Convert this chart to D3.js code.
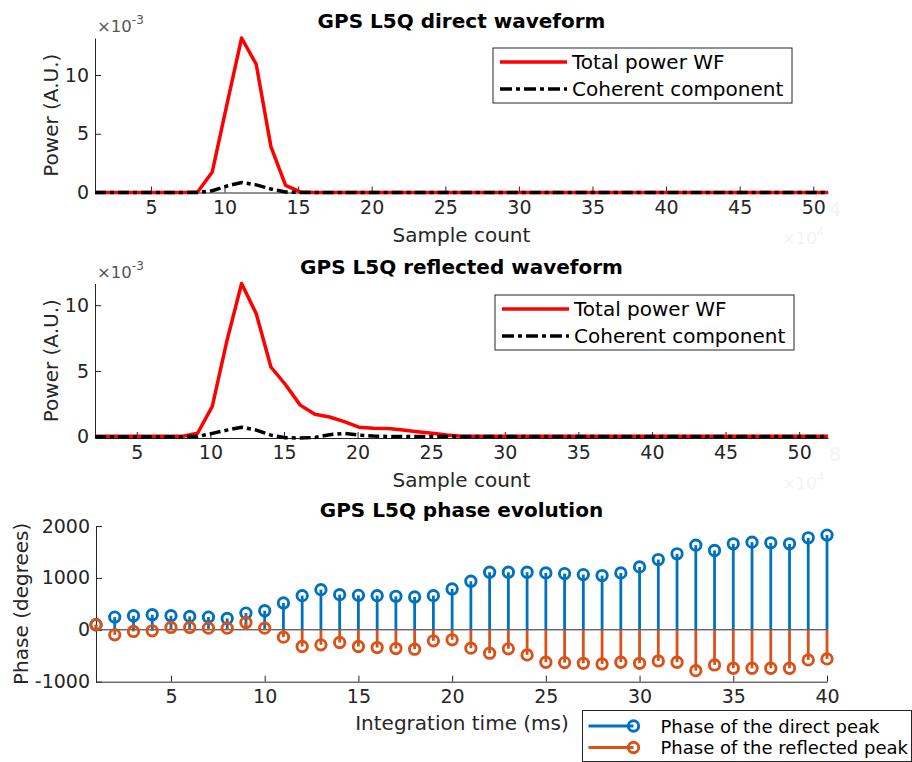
<!DOCTYPE html>
<html>
<head>
<meta charset="utf-8">
<script src="https://cdn.jsdelivr.net/npm/d3@7"></script>
<style>
  body { margin: 0; background: #fff; }
  text { font-family: "DejaVu Sans", sans-serif; }
</style>
</head>
<body>
<div id="chart"></div>
<script>
const width = 912;
const height = 762;

// Data //////////////////////////////////////////////
// waveform samples, power in units of 1e-3
const directTotal = [
  0, 0, 0, 0, 0, 0, 0, 0.05, 1.75, 7.5, 13.15, 10.9, 3.9, 0.6, 0.05,
  0, 0, 0, 0, 0, 0, 0, 0, 0, 0, 0, 0, 0, 0, 0, 0, 0, 0, 0, 0, 0,
  0, 0, 0, 0, 0, 0, 0, 0, 0, 0, 0, 0, 0, 0, 0
];
const directCoherent = [
  0, 0, 0, 0, 0, 0, 0, 0, 0.15, 0.55, 0.85, 0.65, 0.3, 0.05, 0,
  0, 0, 0, 0, 0, 0, 0, 0, 0, 0, 0, 0, 0, 0, 0, 0, 0, 0, 0, 0, 0,
  0, 0, 0, 0, 0, 0, 0, 0, 0, 0, 0, 0, 0, 0, 0
];
const reflectedTotal = [
  0.03, 0.03, 0.03, 0.03, 0.03, 0.03, 0.03, 0.26, 2.3, 7.3, 11.65, 9.35, 5.3,
  3.95, 2.4, 1.7, 1.5, 1.14, 0.72, 0.64, 0.62, 0.5, 0.38, 0.26, 0.13,
  0.04, 0.04, 0.04, 0.04, 0.04, 0.04, 0.04, 0.04, 0.04, 0.04, 0.04, 0.04, 0.04,
  0.04, 0.04, 0.04, 0.04, 0.04, 0.04, 0.04, 0.04, 0.04, 0.04, 0.04, 0.04, 0.04
];
const reflectedCoherent = [
  0, 0, 0, 0, 0, 0, 0, 0.02, 0.25, 0.5, 0.72, 0.5, 0.12,
  -0.08, -0.1, -0.06, 0.15, 0.25, 0.12, 0.05, 0.02, 0.02, 0.02, 0.02, 0.02,
  0.02, 0.02, 0.02, 0.02, 0.02, 0.02, 0.02, 0.02, 0.02, 0.02, 0.02, 0.02, 0.02,
  0.02, 0.02, 0.02, 0.02, 0.02, 0.02, 0.02, 0.02, 0.02, 0.02, 0.02, 0.02, 0.02
];
// first sample position and spacing on the "Sample count" axis
const directStart = 1.2;
const reflectedStart = 2.16;
const sampleStep = 0.996;

const sampleTicks = [5, 10, 15, 20, 25, 30, 35, 40, 45, 50];
const powerTicks = [0, 5, 10];

// phase evolution, degrees
const integrationTime = d3.range(1, 41);
const phaseDirect = [
  97, 245, 271, 290, 271, 258, 245, 219, 322, 367,
  516, 658, 774, 677, 664, 658, 645, 632, 658, 787,
  935, 1109, 1109, 1109, 1096, 1083, 1064, 1045, 1096, 1212,
  1354, 1464, 1631, 1528, 1657, 1689, 1676, 1657, 1773, 1825
];
const phaseReflected = [
  97, -97, -32, -19, 45, 45, 32, 32, 142, 32,
  -142, -322, -290, -245, -322, -342, -361, -374, -213, -193,
  -354, -451, -367, -484, -625, -632, -645, -658, -625, -645,
  -600, -625, -787, -677, -741, -741, -741, -741, -580, -561
];
const timeTicks = [5, 10, 15, 20, 25, 30, 35, 40];
const phaseTicks = [-1000, 0, 1000, 2000];

// Colors ////////////////////////////////////////////
const axisColor = "#262626";
const red = "#ff0000";
const blue = "#0072bd";
const orange = "#d95319";

const svg = d3.select("#chart").append("svg")
  .attr("width", width)
  .attr("height", height)
  .style("display", "block");
svg.append("rect").attr("width", width).attr("height", height).attr("fill", "#fff");

const plainFormat = d => String(d);

const styleAxis = (g, size) => {
  g.select(".domain").attr("stroke", axisColor).attr("stroke-width", 1);
  g.selectAll(".tick line").attr("stroke", axisColor);
  g.selectAll(".tick text")
    .attr("fill", axisColor)
    .style("font-size", size + "px")
    .style("font-family", "DejaVu Sans");
};

// Waveform panel /////////////////////////////////////
const drawWaveform = (cfg) => {
  const xs = cfg.total.map((d, i) => cfg.start + i * sampleStep);
  const x = d3.scaleLinear()
    .domain([cfg.start, xs[xs.length - 1]])
    .range([95, 828]);
  const ext = d3.extent(cfg.total.concat(cfg.coherent));
  const y = d3.scaleLinear().domain(ext).range([cfg.bottom, cfg.top]);

  const g = svg.append("g");

  g.append("g")
    .attr("transform", `translate(0,${cfg.bottom})`)
    .call(d3.axisBottom(x).tickValues(sampleTicks).tickFormat(plainFormat)
      .tickSizeInner(-6).tickSizeOuter(0).tickPadding(8))
    .call(a => styleAxis(a, 19));
  g.append("g")
    .attr("transform", "translate(95,0)")
    .call(d3.axisLeft(y).tickValues(powerTicks).tickFormat(plainFormat)
      .tickSizeInner(-6).tickSizeOuter(0).tickPadding(6))
    .call(a => styleAxis(a, 19));

  const line = d3.line()
    .x((d, i) => x(xs[i]))
    .y(d => y(d));

  g.append("path")
    .datum(cfg.total)
    .attr("d", line)
    .attr("fill", "none")
    .attr("stroke", red)
    .attr("stroke-width", 3.5)
    .attr("stroke-linejoin", "round");
  g.append("path")
    .datum(cfg.coherent)
    .attr("d", line)
    .attr("fill", "none")
    .attr("stroke", "#000")
    .attr("stroke-width", 3.5)
    .attr("stroke-dasharray", "11,4,4,4");

  // exponent label
  const exp = g.append("text")
    .attr("x", 97)
    .attr("y", cfg.top - 6)
    .attr("fill", "#555")
    .style("font-size", "16.5px");
  exp.append("tspan").text("×10");
  exp.append("tspan").attr("dy", -8).style("font-size", "12px").text("-3");

  // faint ghost exponent from a hidden axis
  g.append("text")
    .attr("x", 829).attr("y", cfg.bottom + 23)
    .attr("fill", "#f3f3f3").style("font-size", "19px").text(cfg.ghost);
  const gh = g.append("text")
    .attr("x", 782).attr("y", cfg.bottom + 51)
    .attr("fill", "#f3f3f3").style("font-size", "16.5px");
  gh.append("tspan").text("×10");
  gh.append("tspan").attr("dy", -8).style("font-size", "12px").text("4");

  // title and labels
  g.append("text")
    .attr("x", 461.5).attr("y", cfg.top - 10)
    .attr("text-anchor", "middle")
    .attr("fill", "#000")
    .style("font-size", "20px")
    .style("font-weight", "bold")
    .text(cfg.title);
  g.append("text")
    .attr("x", 461.5).attr("y", cfg.bottom + 49)
    .attr("text-anchor", "middle")
    .attr("fill", axisColor)
    .style("font-size", "20px")
    .text("Sample count");
  g.append("text")
    .attr("transform", `translate(58,${(cfg.top + cfg.bottom) / 2}) rotate(-90)`)
    .attr("text-anchor", "middle")
    .attr("fill", axisColor)
    .style("font-size", "20px")
    .text("Power (A.U.)");

  // legend
  const lg = g.append("g").attr("transform", `translate(${cfg.legendX},${cfg.legendY})`);
  lg.append("rect")
    .attr("width", 299).attr("height", 55)
    .attr("fill", "#fff").attr("stroke", axisColor).attr("stroke-width", 1);
  lg.append("line").attr("x1", 7).attr("x2", 74).attr("y1", 14).attr("y2", 14)
    .attr("stroke", red).attr("stroke-width", 3.5);
  lg.append("line").attr("x1", 7).attr("x2", 74).attr("y1", 41).attr("y2", 41)
    .attr("stroke", "#000").attr("stroke-width", 3.5).attr("stroke-dasharray", "12,4,4,4");
  lg.append("text").attr("x", 79).attr("y", 21).attr("fill", "#000")
    .style("font-size", "20px").text("Total power WF");
  lg.append("text").attr("x", 79).attr("y", 48).attr("fill", "#000")
    .style("font-size", "20px").text("Coherent component");
};

drawWaveform({
  title: "GPS L5Q direct waveform",
  total: directTotal,
  coherent: directCoherent,
  start: directStart,
  top: 38,
  bottom: 192.5,
  legendX: 493,
  legendY: 48,
  ghost: "4"
});
drawWaveform({
  title: "GPS L5Q reflected waveform",
  total: reflectedTotal,
  coherent: reflectedCoherent,
  start: reflectedStart,
  top: 283.5,
  bottom: 438,
  legendX: 495,
  legendY: 295,
  ghost: "8"
});

// Phase panel ////////////////////////////////////////
const px = d3.scaleLinear().domain([1, 40]).range([96, 827]);
const py = d3.scaleLinear().domain([-1000, 2000]).range([681.7, 526]);
const pg = svg.append("g");

pg.append("g")
  .attr("transform", "translate(0,681.7)")
  .call(d3.axisBottom(px).tickValues(timeTicks).tickFormat(plainFormat)
    .tickSizeInner(-6).tickSizeOuter(0).tickPadding(8))
  .call(a => styleAxis(a, 19));
pg.append("g")
  .attr("transform", "translate(96,0)")
  .call(d3.axisLeft(py).tickValues(phaseTicks).tickFormat(plainFormat)
    .tickSizeInner(-6).tickSizeOuter(0).tickPadding(6))
  .call(a => styleAxis(a, 19));

// baseline
pg.append("line")
  .attr("x1", px(1)).attr("x2", px(40))
  .attr("y1", py(0)).attr("y2", py(0))
  .attr("stroke", axisColor).attr("stroke-width", 1);

const drawStems = (values, color) => {
  const s = pg.append("g");
  s.selectAll("line")
    .data(values)
    .join("line")
    .attr("x1", (d, i) => px(integrationTime[i]))
    .attr("x2", (d, i) => px(integrationTime[i]))
    .attr("y1", py(0))
    .attr("y2", d => py(d))
    .attr("stroke", color)
    .attr("stroke-width", 2.8);
  s.selectAll("circle")
    .data(values)
    .join("circle")
    .attr("cx", (d, i) => px(integrationTime[i]))
    .attr("cy", d => py(d))
    .attr("r", 5.2)
    .attr("fill", "none")
    .attr("stroke", color)
    .attr("stroke-width", 2.9);
};
drawStems(phaseDirect, blue);
drawStems(phaseReflected, orange);

pg.append("text")
  .attr("x", 461.5).attr("y", 516.5)
  .attr("text-anchor", "middle")
  .attr("fill", "#000")
  .style("font-size", "20px")
  .style("font-weight", "bold")
  .text("GPS L5Q phase evolution");
pg.append("text")
  .attr("x", 462).attr("y", 730)
  .attr("text-anchor", "middle")
  .attr("fill", axisColor)
  .style("font-size", "20px")
  .text("Integration time (ms)");
pg.append("text")
  .attr("transform", `translate(28,${(526 + 681.7) / 2}) rotate(-90)`)
  .attr("text-anchor", "middle")
  .attr("fill", axisColor)
  .style("font-size", "20px")
  .text("Phase (degrees)");

// phase legend
const pl = pg.append("g").attr("transform", "translate(582.5,710.5)");
pl.append("rect")
  .attr("width", 329).attr("height", 51)
  .attr("fill", "#fff").attr("stroke", axisColor).attr("stroke-width", 1);
[["Phase of the direct peak", blue, 15.5], ["Phase of the reflected peak", orange, 37]].forEach(([label, color, yy]) => {
  pl.append("line").attr("x1", 6).attr("x2", 51).attr("y1", yy).attr("y2", yy)
    .attr("stroke", color).attr("stroke-width", 2.8);
  pl.append("circle").attr("cx", 51).attr("cy", yy).attr("r", 5.2)
    .attr("fill", "none").attr("stroke", color).attr("stroke-width", 2.9);
  pl.append("text").attr("x", 78).attr("y", yy + 6.5).attr("fill", "#000")
    .style("font-size", "18px").text(label);
});
</script>
</body>
</html>
